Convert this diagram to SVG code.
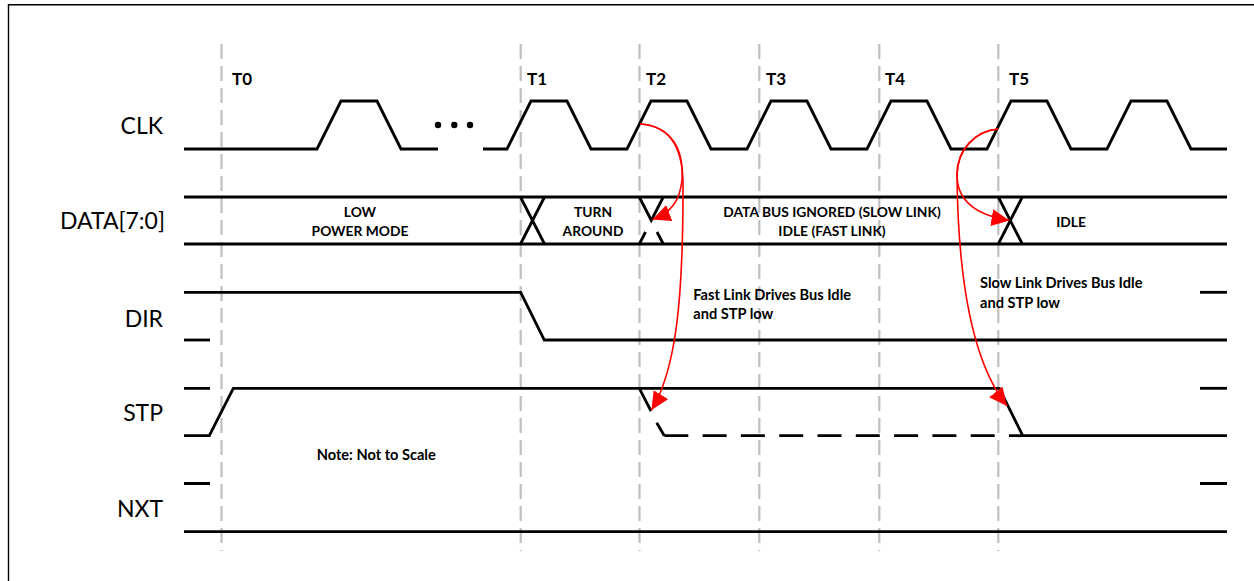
<svg xmlns="http://www.w3.org/2000/svg" width="1254" height="581" viewBox="0 0 1254 581">
<defs>
<style>
.frame{fill:none;stroke:#000;stroke-width:1.4}
.grid{fill:none;stroke:#BFBFBF;stroke-width:2.2;stroke-dasharray:15 7}
.sig{fill:none;stroke:#000;stroke-width:2.8;stroke-linejoin:miter}
.dash{fill:none;stroke:#000;stroke-width:2.8;stroke-dasharray:24 14.3}
.arr{fill:none;stroke:#FF0000;stroke-width:1.6;marker-end:url(#ah)}
.name{font-family:Lato,"Liberation Sans",sans-serif;font-size:23px;fill:#000}
.tl{font-family:Lato,"Liberation Sans",sans-serif;font-weight:bold;font-size:17px;fill:#000}
.b{font-family:Lato,"Liberation Sans",sans-serif;font-weight:bold;font-size:13.8px;fill:#000}
.n{font-family:Lato,"Liberation Sans",sans-serif;font-weight:bold;font-size:14.6px;fill:#000}
.c{text-anchor:middle}
</style>
<marker id="ah" markerUnits="userSpaceOnUse" markerWidth="20" markerHeight="18" refX="18" refY="8.5" orient="auto">
<path d="M0,0 L18,8.5 L0,17 z" fill="#FF0000"/>
</marker>
</defs>
<rect width="1254" height="581" fill="#fff"/>
<path class="frame" d="M8.5,581 V4.7 H1254"/>
<g id="gridlines">
<line class="grid" x1="221.5" y1="44" x2="221.5" y2="551"/>
<line class="grid" x1="520.7" y1="44" x2="520.7" y2="551"/>
<line class="grid" x1="639.5" y1="44" x2="639.5" y2="551"/>
<line class="grid" x1="759.3" y1="44" x2="759.3" y2="551"/>
<line class="grid" x1="879.3" y1="44" x2="879.3" y2="551"/>
<line class="grid" x1="998.3" y1="44" x2="998.3" y2="551"/>
</g>
<g id="tlabels">
<text class="tl" x="232" y="85">T0</text>
<text class="tl" x="527" y="85">T1</text>
<text class="tl" x="646" y="85">T2</text>
<text class="tl" x="766" y="85">T3</text>
<text class="tl" x="885" y="85">T4</text>
<text class="tl" x="1009" y="85">T5</text>
</g>
<g id="names">
<text class="name" x="163" y="134" text-anchor="end">CLK</text>
<text class="name" x="165" y="229" text-anchor="end">DATA[7:0]</text>
<text class="name" x="163" y="327" text-anchor="end">DIR</text>
<text class="name" x="163" y="421" text-anchor="end">STP</text>
<text class="name" x="163" y="517" text-anchor="end">NXT</text>
</g>
<g id="clk">
<path class="sig" d="M184,149 H317 L341,101 H377 L401,149 H438"/>
<circle cx="438" cy="125" r="3.2"/>
<circle cx="454.3" cy="125" r="3.2"/>
<circle cx="470" cy="125" r="3.2"/>
<path class="sig" d="M483,149 H507 L531,101 H567 L591,149 H627 L651,101 H687 L711,149 H747 L771,101 H807 L831,149 H867 L891,101 H927 L951,149 H987 L1011,101 H1047 L1071,149 H1107 L1131,101 H1167 L1191,149 H1227"/>
</g>
<g id="data">
<path class="sig" d="M184,197 H1227 M184,244 H1227"/>
<path class="sig" d="M520.5,197 L544.5,244 M520.5,244 L544.5,197"/>
<path class="sig" d="M639.3,197 L651.3,220.5 L663.3,197 M639.3,244 L645.5,232 M663.3,244 L657,232"/>
<path class="sig" d="M998.3,197 L1022.3,244 M998.3,244 L1022.3,197"/>
<text class="b c" x="360" y="217">LOW</text>
<text class="b c" x="360" y="236">POWER MODE</text>
<text class="b c" x="593" y="217">TURN</text>
<text class="b c" x="593" y="236">AROUND</text>
<text class="b c" x="832" y="217">DATA BUS IGNORED (SLOW LINK)</text>
<text class="b c" x="832" y="236">IDLE (FAST LINK)</text>
<text class="b c" x="1071" y="227">IDLE</text>
</g>
<g id="dir">
<path class="sig" d="M184,292.3 H520.7 L544.3,340 H1227"/>
<path class="sig" d="M184,340 H210"/>
<path class="sig" d="M1200,292.3 H1227"/>
</g>
<g id="stp">
<path class="sig" d="M184,388.3 H210 M184,435.7 H209.3 L233.3,388.3 H999.3 L1022.7,435.7 H1227"/>
<path class="sig" d="M639.3,388.3 L651,411 M656.7,422.7 L664.3,435.7"/>
<path class="dash" d="M664.3,435.7 H1022"/>
<path class="sig" d="M1200,388.3 H1227"/>
<text class="n" x="316.7" y="460">Note: Not to Scale</text>
</g>
<g id="nxt">
<path class="sig" d="M184,483.5 H210 M1200,483.5 H1227 M184,531.7 H1227"/>
</g>
<g id="connectors">
<path class="arr" d="M640,124 C672,126 684,150 682,180 C680,200 672,212 652.5,219.5"/>
<path class="arr" d="M640,124 C672,126 684,150 683,190 C683,300 676,370 651.5,410"/>
<path class="arr" d="M998,129 C975,131 957,150 957,175 C957,200 975,215 1009.5,220.5"/>
<path class="arr" d="M998,129 C975,131 957,150 957,175 C958,280 972,362 1007,406"/>
</g>
<g id="notes">
<text class="n" x="693.3" y="300">Fast Link Drives Bus Idle</text>
<text class="n" x="693.3" y="319.3">and STP low</text>
<text class="n" x="980" y="288.3">Slow Link Drives Bus Idle</text>
<text class="n" x="980" y="307.7">and STP low</text>
</g>
</svg>
